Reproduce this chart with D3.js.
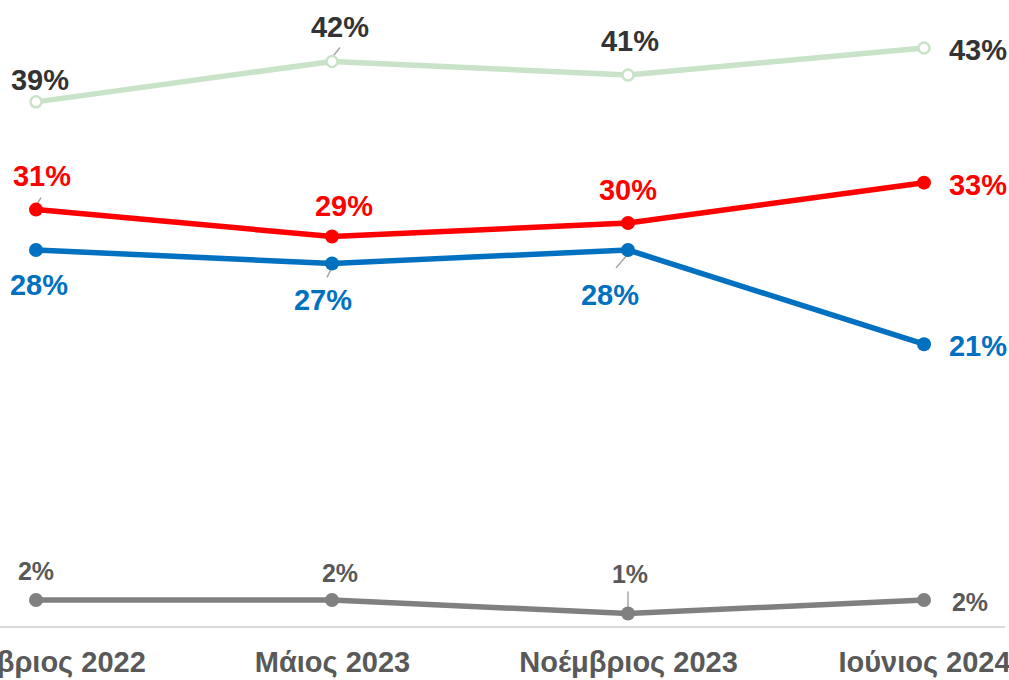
<!DOCTYPE html>
<html><head><meta charset="utf-8">
<script src="https://cdn.jsdelivr.net/npm/d3@7"></script>
<style>
html,body{margin:0;padding:0;background:#fff;overflow:hidden}
text{font-family:"Liberation Sans",Arial,sans-serif;font-weight:bold}
</style></head>
<body>
<svg id="c" width="1009" height="680"></svg>
<script>
const categories = ["Νοέμβριος 2022","Μάιος 2023","Νοέμβριος 2023","Ιούνιος 2024"];
const greenValues = [39, 42, 41, 43];
const redValues   = [31, 29, 30, 33];
const blueValues  = [28, 27, 28, 21];
const greyValues  = [2, 2, 1, 2];

const series = [
  {name:"green", values:greenValues, line:"#c9e3c9", text:"#333333", hollow:true,
   lab:[[4,-12],[8,-24],[2,-24],[54,12]], lead:[null,[[0,-4],[8,-14]],[0,-4],[2,-12]]},
  {name:"red", values:redValues, line:"#ff0000", text:"#ff0000", hollow:false,
   lab:[[6,-24],[12,-21],[0,-23],[54,12]], lead:[[[0,-4],[5,-12]],null,null,null]},
  {name:"blue", values:blueValues, line:"#0070c0", text:"#0070c0", hollow:false,
   lab:[[3,45],[-9,47],[-18,55],[54,12]], lead:[null,[[0,4],[-5,14]],[[0,4],[-12,18]],null]},
  {name:"grey", values:greyValues, line:"#808080", text:"#595959", hollow:false,
   lab:[[0,-20],[8,-18],[2,-31],[46,11]], lead:[null,null,[[0,-6],[0,-22]],null]}
];

const svg = d3.select("#c");
const x = d3.scalePoint().domain(categories).range([36, 924]);
const y = d3.scaleLinear().domain([0, 43]).range([627, 48]);

// baseline axis
svg.append("line").attr("x1",0).attr("x2",1005).attr("y1",y(0)).attr("y2",y(0))
  .attr("stroke","#d9d9d9").attr("stroke-width",2);

const xAxis = d3.axisBottom(x).tickSize(0).tickPadding(0);
const ax = svg.append("g").attr("transform",`translate(0,${y(0)})`).call(xAxis);
ax.select(".domain").remove();
ax.selectAll("text").attr("fill","#595959").attr("font-size",29).attr("dy",0).attr("y",45)
  .style("font-family","'Liberation Sans',Arial,sans-serif").style("font-weight","bold");

const line = d3.line().x((d,i)=>x(categories[i])).y(d=>y(d));

series.forEach(s=>{
  const g = svg.append("g");
  g.append("path").datum(s.values).attr("d",line).attr("fill","none")
    .attr("stroke",s.line).attr("stroke-width",5.5).attr("stroke-linejoin","round");
  // leader lines
  s.values.forEach((v,i)=>{
    const l = s.lead[i];
    if(!l) return;
    g.append("line")
      .attr("x1",x(categories[i])+l[0][0]).attr("y1",y(v)+l[0][1])
      .attr("x2",x(categories[i])+l[1][0]).attr("y2",y(v)+l[1][1])
      .attr("stroke","#a6a6a6").attr("stroke-width",1.5);
  });
  g.selectAll("circle").data(s.values).join("circle")
    .attr("cx",(d,i)=>x(categories[i])).attr("cy",d=>y(d))
    .attr("r", s.hollow?5.5:7)
    .attr("fill", s.hollow?"#ffffff":s.line)
    .attr("stroke", s.line).attr("stroke-width", s.hollow?2.5:0);
  g.selectAll("text").data(s.values).join("text")
    .attr("x",(d,i)=>x(categories[i])+s.lab[i][0])
    .attr("y",(d,i)=>y(d)+s.lab[i][1])
    .attr("text-anchor","middle")
    .attr("font-size", s.name==="grey"?25:29)
    .attr("fill",s.text)
    .text(d=>d+"%");
});
</script>
</body></html>
